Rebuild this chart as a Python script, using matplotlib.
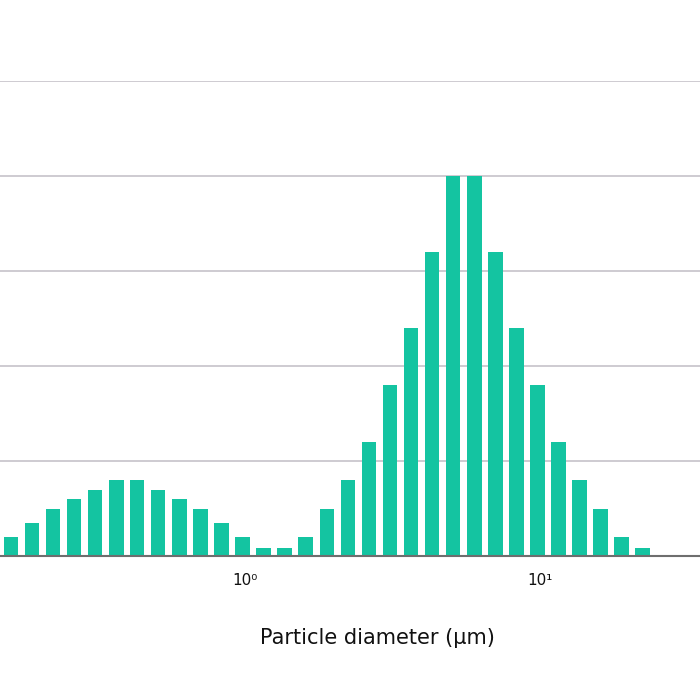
import numpy as np
import matplotlib

matplotlib.use('Agg')
import matplotlib.pyplot as plt

# particle diameter (um), bin centres
diameters = [0.161, 0.190, 0.224, 0.264, 0.311, 0.367, 0.432, 0.509, 0.600, 0.708,
             0.834, 0.983, 1.159, 1.366, 1.611, 1.899, 2.238, 2.638, 3.110, 3.665,
             4.321, 5.093, 6.004, 7.078, 8.344, 9.834, 11.59, 13.67, 16.11, 18.99,
             22.38]
# volume fraction per bin
values = [0.2, 0.35, 0.5, 0.6, 0.7, 0.8, 0.8, 0.7, 0.6, 0.5,
          0.35, 0.2, 0.08, 0.08, 0.2, 0.5, 0.8, 1.2, 1.8, 2.4,
          3.2, 4.0, 4.0, 3.2, 2.4, 1.8, 1.2, 0.8, 0.5, 0.2,
          0.08]
tick_values = [1, 10]
tick_labels = ['10\u2070', '10\u00b9']
grid_levels = [1, 2, 3, 4, 5]

plt.rcParams['font.family'] = ['DejaVu Sans']

fig = plt.figure(figsize=(7, 7), dpi=100)
ax = fig.add_axes([0, 0.2057, 1.077, 0.678])

# bar widths on the log axis: ~69% of the bin step (1/14 decade)
d = np.array(diameters)
half = 10 ** (0.69 * (1 / 14) / 2)
ax.bar(d / half, values, width=d * half - d / half, align='edge',
       color='#14C4A1', edgecolor='none', zorder=3)

ax.set_xscale('log')
ax.set_xlim(0.148, 53.3)
ax.set_ylim(0, 5)

ax.set_yticks(grid_levels)
ax.yaxis.grid(True, color='#c6c2ca', linewidth=1.2, zorder=0)
ax.tick_params(axis='y', left=False, labelleft=False)

ax.set_xticks(tick_values)
ax.set_xticklabels(tick_labels, fontsize=11, color='#111111')
ax.xaxis.set_minor_locator(matplotlib.ticker.NullLocator())
ax.tick_params(axis='x', length=0, pad=12)

for side in ['top', 'right', 'left']:
    ax.spines[side].set_visible(False)
ax.spines['bottom'].set_color('#6e6e6e')
ax.spines['bottom'].set_linewidth(1.5)
ax.spines['bottom'].set_zorder(4)

ax.set_xlabel('Particle diameter (\u00b5m)', fontsize=15, color='#111111', labelpad=29)

fig.savefig('out.png', dpi=100, facecolor='white')
